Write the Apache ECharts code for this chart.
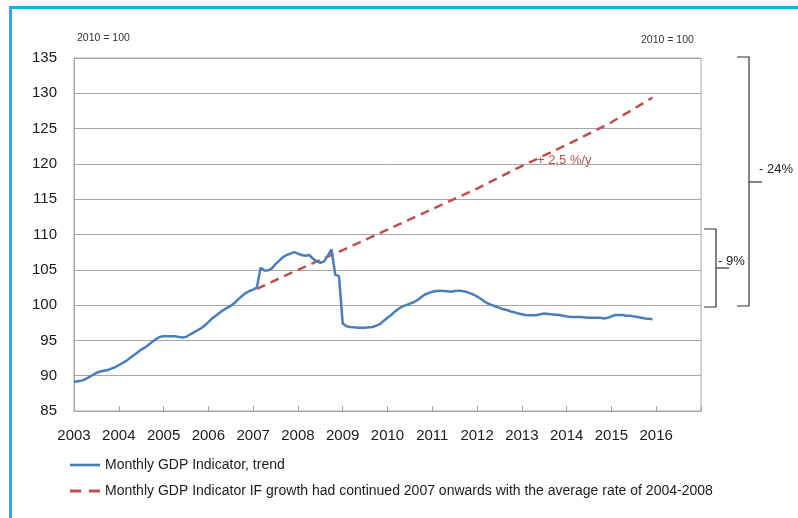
<!DOCTYPE html>
<html><head><meta charset="utf-8">
<script src="https://cdn.jsdelivr.net/npm/echarts@6/dist/echarts.min.js"></script>
<style>
html,body{margin:0;padding:0;background:#fff;overflow:hidden;width:798px;height:518px}
#frame{position:absolute;left:9px;top:6px;width:900px;height:600px;border-left:3px solid #12b0ee;border-top:3px solid #12b0ee;}
#c{position:absolute;left:0;top:0;width:798px;height:518px;}
</style></head><body><div id="frame"></div><div id="c"></div>
<script>
// ---- data ----
const startYear = 2003;           // first month of the blue series: Jan 2003
const xTickLabels = ['2003','2004','2005','2006','2007','2008','2009','2010','2011','2012','2013','2014','2015','2016'];
const yMin = 85, yMax = 135, yStep = 5;

// Monthly GDP Indicator, trend (Jan 2003 .. Dec 2015), 12 values per year
const gdp2003 = [89.1,89.2,89.3,89.5,89.8,90.1,90.4,90.6,90.7,90.8,91.0,91.2];
const gdp2004 = [91.5,91.8,92.1,92.5,92.9,93.3,93.7,94.0,94.4,94.8,95.2,95.5];
const gdp2005 = [95.6,95.6,95.6,95.6,95.5,95.4,95.5,95.8,96.1,96.4,96.7,97.1];
const gdp2006 = [97.6,98.1,98.5,98.9,99.3,99.6,99.9,100.3,100.8,101.3,101.7,102.0];
const gdp2007 = [102.2,102.5,105.3,104.9,104.9,105.2,105.8,106.3,106.8,107.1,107.3,107.5];
const gdp2008 = [107.3,107.1,107.0,107.1,106.6,106.2,106.0,106.2,107.0,107.9,104.3,104.1];
const gdp2009 = [97.4,97.0,96.9,96.85,96.8,96.8,96.8,96.85,96.9,97.1,97.3,97.8];
const gdp2010 = [98.2,98.6,99.1,99.5,99.8,100.0,100.2,100.4,100.7,101.1,101.5,101.7];
const gdp2011 = [101.9,102.0,102.05,102.0,101.95,101.9,102.0,102.05,102.0,101.9,101.7,101.5];
const gdp2012 = [101.2,100.9,100.5,100.2,100.0,99.8,99.6,99.4,99.3,99.1,99.0,98.8];
const gdp2013 = [98.7,98.6,98.55,98.55,98.6,98.7,98.8,98.75,98.7,98.65,98.6,98.5];
const gdp2014 = [98.4,98.3,98.3,98.3,98.3,98.25,98.2,98.2,98.2,98.2,98.1,98.2];
const gdp2015 = [98.4,98.6,98.6,98.6,98.5,98.5,98.4,98.3,98.2,98.1,98.05,98.0];

// Counterfactual line (+2,5 %/y), read at these months
const ifMonths = ['2007-02','2008-01','2009-01','2010-01','2011-01','2012-01','2013-01','2014-01','2015-01','2015-12'];
const ifValues = [102.3,105.0,107.8,110.7,113.6,116.5,119.7,122.7,125.9,129.4];

const nameTrend = 'Monthly GDP Indicator, trend';
const nameIf = 'Monthly GDP Indicator IF growth had continued 2007 onwards with the average rate of 2004-2008';

// ---- build ----
const gdpTrend = [].concat(gdp2003,gdp2004,gdp2005,gdp2006,gdp2007,gdp2008,gdp2009,gdp2010,gdp2011,gdp2012,gdp2013,gdp2014,gdp2015);
const trendData = gdpTrend.map((v,i)=>[startYear + i/12, v]);
const ifData = ifMonths.map((m,i)=>{const [y,mo]=m.split('-').map(Number); return [y+(mo-1)/12, ifValues[i]];});

const FONT = "'Liberation Sans', Arial, sans-serif";
const BLUE = '#4a7ebb', RED = '#c0504d';
const chart = echarts.init(document.getElementById('c'), null, {renderer:'canvas'});
const gridCol = '#a6a6a6';
chart.setOption({
  animation:false,
  backgroundColor:'transparent',
  textStyle:{fontFamily:FONT},
  grid:{left:74, top:58, right:97, bottom:107, show:true, borderColor:gridCol, borderWidth:1},
  xAxis:{
    type:'value', min:2003, max:2003+xTickLabels.length, interval:1,
    axisLine:{show:true, onZero:false, lineStyle:{color:gridCol}},
    axisTick:{show:true, inside:true, length:5, lineStyle:{color:gridCol}},
    splitLine:{show:false},
    axisLabel:{margin:17, fontSize:15, color:'#1a1a1a', fontFamily:FONT,
      formatter:(v)=>{const i=Math.round(v)-2003; return xTickLabels[i]!==undefined?xTickLabels[i]:'';}}
  },
  yAxis:{
    type:'value', min:yMin, max:yMax, interval:yStep,
    axisLine:{show:true, lineStyle:{color:gridCol}},
    axisTick:{show:false},
    splitLine:{show:true, lineStyle:{color:gridCol, width:1}},
    axisLabel:{margin:17, fontSize:15, color:'#1a1a1a', fontFamily:FONT}
  },
  legend:{
    orient:'vertical', left:70, top:458, padding:0, itemWidth:30, itemHeight:14, itemGap:12,
    textStyle:{fontSize:14, color:'#1a1a1a', fontFamily:FONT},
    data:[
      {name:nameTrend, icon:'path://M0,0h30v2.6h-30z', itemStyle:{color:BLUE}},
      {name:nameIf, icon:'path://M0,0h10v2.6h-10z M17,0h10v2.6h-10z', itemStyle:{color:RED}}
    ]
  },
  series:[
    {name:nameTrend, type:'line', data:trendData, symbol:'none', smooth:false,
      lineStyle:{color:BLUE, width:2.5}, itemStyle:{color:BLUE}, z:3},
    {name:nameIf, type:'line', data:ifData, symbol:'none',
      lineStyle:{color:RED, width:2.5, type:[9,6]}, itemStyle:{color:RED}, z:2}
  ],
  graphic:[
    {type:'text', left:77, top:33, style:{text:'2010 = 100', fontSize:10.5, fill:'#333', fontFamily:FONT}},
    {type:'text', left:641, top:35, style:{text:'2010 = 100', fontSize:10.5, fill:'#333', fontFamily:FONT}},
    {type:'text', left:537, top:154, style:{text:'+ 2,5 %/y', fontSize:13, fill:RED, fontFamily:FONT}},
    {type:'polyline', shape:{points:[[704,229],[716,229],[716,307],[704,307]]}, style:{stroke:'#333', lineWidth:1.2, fill:null}},
    {type:'line', shape:{x1:716,y1:268,x2:729,y2:268}, style:{stroke:'#333', lineWidth:1.2}},
    {type:'text', left:718, top:255, style:{text:'- 9%', fontSize:13, fill:'#222', fontFamily:FONT}},
    {type:'polyline', shape:{points:[[737,57],[749,57],[749,306],[737,306]]}, style:{stroke:'#333', lineWidth:1.2, fill:null}},
    {type:'line', shape:{x1:749,y1:182,x2:762,y2:182}, style:{stroke:'#333', lineWidth:1.2}},
    {type:'text', left:759, top:163, style:{text:'- 24%', fontSize:13, fill:'#222', fontFamily:FONT}}
  ]
});
</script></body></html>
